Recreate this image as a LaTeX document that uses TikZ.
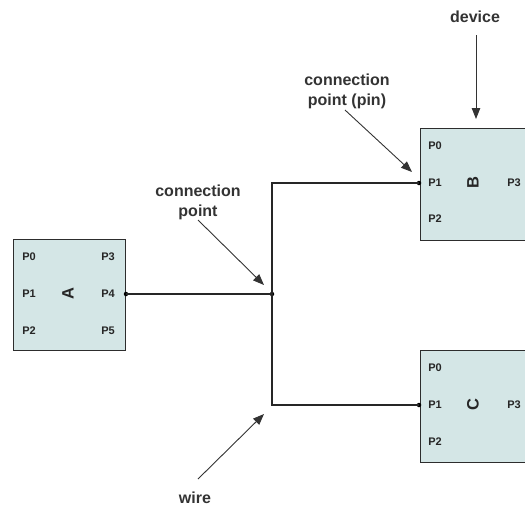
\documentclass[tikz,border=0pt]{standalone}
\usepackage{fontspec}
\setmainfont{Liberation Sans}
\usetikzlibrary{arrows.meta}
\definecolor{devfill}{RGB}{212,230,230}
\definecolor{edgegrey}{RGB}{45,45,45}
\begin{document}
\begin{tikzpicture}[x=1pt,y=-1pt,
  device/.style={draw=edgegrey, line width=1.3pt, fill=devfill, inner sep=0, anchor=north west},
  pinlbl/.style={font=\bfseries\fontsize{11}{12}\selectfont, text=black!85, inner sep=0},
  devname/.style={font=\bfseries\fontsize{16.5}{17}\selectfont, text=black!85, rotate=90, inner sep=0},
  note/.style={font=\bfseries\fontsize{16}{20}\selectfont, align=center, inner sep=0, text=black!80},
  wire/.style={line width=1.3pt, draw=black!85},
  pointer/.style={line width=0.9pt, draw=black!80, -{Triangle[length=11pt,width=8.5pt]}},
  junction/.style={circle, fill=black, inner sep=0, minimum size=4.5pt}]
\useasboundingbox (0,0) rectangle (525,507);
\clip (0,0) rectangle (525,507);

% devices
\node[device, minimum width=112pt, minimum height=111pt] (A) at (13,239) {};
\node[device, minimum width=120pt, minimum height=112pt] (B) at (420,128) {};
\node[device, minimum width=120pt, minimum height=112pt] (C) at (420,350) {};

% device A pins and name
\node[pinlbl] (A0) at (29,257) {P0};
\node[pinlbl] (A1) at (29,294) {P1};
\node[pinlbl] (A2) at (29,331) {P2};
\node[pinlbl] (A3) at (108,257) {P3};
\node[pinlbl] (A4) at (108,294) {P4};
\node[pinlbl] (A5) at (108,331) {P5};
\node[devname] (Aname) at (68,294) {A};

% device B pins and name
\node[pinlbl] (B0) at (435,146) {P0};
\node[pinlbl] (B1) at (435,183) {P1};
\node[pinlbl] (B2) at (435,219) {P2};
\node[pinlbl] (B3) at (514,183) {P3};
\node[devname] (Bname) at (473,183) {B};

% device C pins and name
\node[pinlbl] (C0) at (435,368) {P0};
\node[pinlbl] (C1) at (435,405) {P1};
\node[pinlbl] (C2) at (435,442) {P2};
\node[pinlbl] (C3) at (514,405) {P3};
\node[devname] (Cname) at (473,405) {C};

% connection points
\node[junction] (pA4) at (126,294) {};
\node[junction] (hub) at (272,294) {};
\node[junction] (pB1) at (419,183) {};
\node[junction] (pC1) at (419,405) {};

% wires
\draw[wire] (pA4.center) -- (hub.center);
\draw[wire] (pB1.center) -| (hub.center) |- (pC1.center);

% annotations
\node[note] (tdev) at (475,17) {device};
\node[note] (tpin) at (347,91) {connection\\point (pin)};
\node[note] (tcp) at (198,202) {connection\\point};
\node[note] (twire) at (195,498) {wire};

\coordinate (devtip) at (476,119);
\coordinate (pintip) at (412,172);
\coordinate (cptip) at (264,285);
\coordinate (wiretip) at (264,414);

\draw[pointer] (476,35) -- (devtip);
\draw[pointer] (345,110) -- (pintip);
\draw[pointer] (198,220) -- (cptip);
\draw[pointer] (198,479) -- (wiretip);
\end{tikzpicture}
\end{document}
